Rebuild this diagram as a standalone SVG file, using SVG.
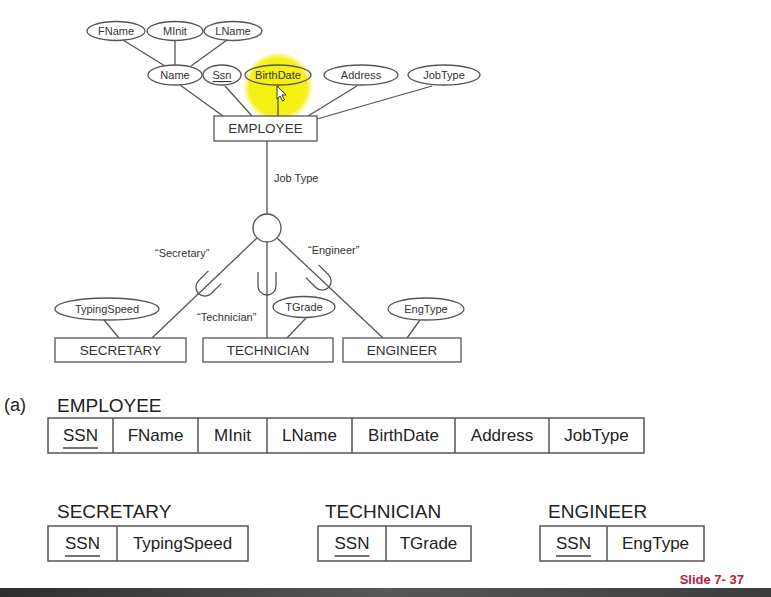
<svg xmlns="http://www.w3.org/2000/svg" width="771" height="597" viewBox="0 0 771 597">
<defs>
<style>
.ln{stroke:#555;stroke-width:1.3;fill:none}
.el{stroke:#555;stroke-width:1.3;fill:none}
.bx{stroke:#555;stroke-width:1.3;fill:#fff}
.et{font-family:"Liberation Sans",Arial,sans-serif;font-size:11px;fill:#333;text-anchor:middle;dominant-baseline:central}
.bt{font-family:"Liberation Sans",Arial,sans-serif;font-size:13.5px;fill:#333;text-anchor:middle;dominant-baseline:central}
.lb{font-family:"Liberation Sans",Arial,sans-serif;font-size:11px;fill:#333}
.hd{font-family:"Liberation Sans",Arial,sans-serif;font-size:19px;fill:#222}
.tt{font-family:"Liberation Sans",Arial,sans-serif;font-size:17px;fill:#222;text-anchor:middle;dominant-baseline:central}
.tb{stroke:#555;stroke-width:1.5;fill:#fff}
.tl{stroke:#555;stroke-width:1.5}
.ul{stroke:#444;stroke-width:1.5}
</style>
<radialGradient id="hl" cx="0.5" cy="0.5" r="0.5">
<stop offset="0" stop-color="#f7f200"/>
<stop offset="0.82" stop-color="#f5ef1c"/>
<stop offset="1" stop-color="#f5ef1c" stop-opacity="0"/>
</radialGradient>
<linearGradient id="bar" x1="0" y1="0" x2="1" y2="0">
<stop offset="0" stop-color="#2e2e2e"/>
<stop offset="0.5" stop-color="#575757"/>
<stop offset="1" stop-color="#3c3c3c"/>
</linearGradient>
<path id="sub" d="M-9,-11 L-9,3 A9 9 0 0 0 9 3 L9,-11"/>
</defs>
<rect width="771" height="597" fill="#fff"/>

<!-- highlight -->
<circle cx="278" cy="87" r="35" fill="url(#hl)"/>

<g id="connectors">
<line class="ln" x1="123" y1="40" x2="165" y2="66"/>
<line class="ln" x1="175" y1="41" x2="175" y2="65"/>
<line class="ln" x1="227" y1="40" x2="191" y2="66"/>
<line class="ln" x1="180" y1="85" x2="223" y2="116"/>
<line class="ln" x1="225" y1="86" x2="252" y2="116"/>
<line class="ln" x1="278" y1="86" x2="278" y2="116"/>
<line class="ln" x1="357" y1="86" x2="308" y2="116"/>
<line class="ln" x1="432" y1="86" x2="317" y2="119"/>
<line class="ln" x1="267" y1="141" x2="267" y2="214"/>
<line class="ln" x1="257" y1="238" x2="152" y2="338"/>
<line class="ln" x1="267" y1="242" x2="267" y2="338"/>
<line class="ln" x1="277" y1="238" x2="383" y2="338"/>
<line class="ln" x1="104" y1="320" x2="119" y2="338"/>
<line class="ln" x1="306" y1="318" x2="287" y2="338"/>
<line class="ln" x1="420" y1="320" x2="407" y2="338"/>
<use href="#sub" class="ln" transform="translate(207,285) rotate(45)"/>
<use href="#sub" class="ln" transform="translate(267,283)"/>
<use href="#sub" class="ln" transform="translate(320,279) rotate(-45)"/>
</g>

<g id="attr-fname"><ellipse class="el" cx="116" cy="31" rx="29" ry="9.5" fill="#fff"/><text class="et" x="116" y="31">FName</text></g>
<g id="attr-minit"><ellipse class="el" cx="175" cy="31" rx="28" ry="9.5" fill="#fff"/><text class="et" x="175" y="31">MInit</text></g>
<g id="attr-lname"><ellipse class="el" cx="233" cy="31" rx="29" ry="9.5" fill="#fff"/><text class="et" x="233" y="31">LName</text></g>
<g id="attr-name"><ellipse class="el" cx="175" cy="75" rx="27" ry="10" fill="#fff"/><text class="et" x="175" y="75">Name</text></g>
<g id="attr-ssn"><ellipse class="el" cx="222" cy="75" rx="19" ry="10" fill="#fff"/><text class="et" x="222" y="75" text-decoration="underline">Ssn</text></g>
<g id="attr-birthdate"><ellipse class="el" cx="278" cy="75" rx="33" ry="10"/><text class="et" x="278" y="75">BirthDate</text></g>
<g id="attr-address"><ellipse class="el" cx="361" cy="75" rx="37" ry="10" fill="#fff"/><text class="et" x="361" y="75">Address</text></g>
<g id="attr-jobtype"><ellipse class="el" cx="444" cy="75" rx="36" ry="10" fill="#fff"/><text class="et" x="444" y="75">JobType</text></g>

<g id="employee"><rect class="bx" x="214" y="116" width="103" height="25"/><text class="bt" x="265.5" y="128.5">EMPLOYEE</text></g>

<!-- cursor -->
<path d="M277,86 L277,99 L280,96 L282.5,101 L284.5,100 L282,95 L286,95 Z" fill="#fff" stroke="#222" stroke-width="0.9"/>

<text class="lb" x="274" y="182">Job Type</text>
<g id="disjoint"><circle class="bx" cx="267" cy="228" r="14"/></g>
<text class="lb" x="155" y="257">“Secretary”</text>
<text class="lb" x="308" y="254">“Engineer”</text>
<text class="lb" x="197" y="321">“Technician”</text>

<g id="attr-typingspeed"><ellipse class="el" cx="107" cy="309" rx="52" ry="11" fill="#fff"/><text class="et" x="107" y="309">TypingSpeed</text></g>
<g id="attr-tgrade"><ellipse class="el" cx="304" cy="307" rx="31" ry="10.5" fill="#fff"/><text class="et" x="304" y="307">TGrade</text></g>
<g id="attr-engtype"><ellipse class="el" cx="426" cy="309" rx="38" ry="11" fill="#fff"/><text class="et" x="426" y="309">EngType</text></g>

<g id="secretary"><rect class="bx" x="55" y="338" width="131" height="24"/><text class="bt" x="120.5" y="350">SECRETARY</text></g>
<g id="technician"><rect class="bx" x="203" y="338" width="130" height="24"/><text class="bt" x="268" y="350">TECHNICIAN</text></g>
<g id="engineer"><rect class="bx" x="343" y="338" width="118" height="24"/><text class="bt" x="402" y="350">ENGINEER</text></g>

<!-- relations -->
<text class="hd" x="4" y="411" style="font-size:18px">(a)</text>
<g id="rel-employee">
<text class="hd" x="57" y="412">EMPLOYEE</text>
<rect class="tb" x="48" y="418" width="596" height="35"/>
<line class="tl" x1="113" y1="418" x2="113" y2="453"/>
<line class="tl" x1="198" y1="418" x2="198" y2="453"/>
<line class="tl" x1="267" y1="418" x2="267" y2="453"/>
<line class="tl" x1="352" y1="418" x2="352" y2="453"/>
<line class="tl" x1="455" y1="418" x2="455" y2="453"/>
<line class="tl" x1="549" y1="418" x2="549" y2="453"/>
<text class="tt" x="80.5" y="435.5">SSN</text>
<line class="ul" x1="63" y1="448" x2="98" y2="448"/>
<text class="tt" x="155.5" y="435.5">FName</text>
<text class="tt" x="232.5" y="435.5">MInit</text>
<text class="tt" x="309.5" y="435.5">LName</text>
<text class="tt" x="403.5" y="435.5">BirthDate</text>
<text class="tt" x="502" y="435.5">Address</text>
<text class="tt" x="596.5" y="435.5">JobType</text>
</g>

<g id="rel-secretary">
<text class="hd" x="57" y="518">SECRETARY</text>
<rect class="tb" x="48" y="526" width="200" height="35"/>
<line class="tl" x1="117" y1="526" x2="117" y2="561"/>
<text class="tt" x="82.5" y="543">SSN</text>
<line class="ul" x1="65" y1="556" x2="100" y2="556"/>
<text class="tt" x="182.5" y="543">TypingSpeed</text>
</g>

<g id="rel-technician">
<text class="hd" x="325" y="518">TECHNICIAN</text>
<rect class="tb" x="318" y="526" width="153" height="35"/>
<line class="tl" x1="386" y1="526" x2="386" y2="561"/>
<text class="tt" x="352" y="543">SSN</text>
<line class="ul" x1="334.5" y1="556" x2="369.5" y2="556"/>
<text class="tt" x="428.5" y="543">TGrade</text>
</g>

<g id="rel-engineer">
<text class="hd" x="548" y="518">ENGINEER</text>
<rect class="tb" x="540" y="526" width="164" height="35"/>
<line class="tl" x1="607" y1="526" x2="607" y2="561"/>
<text class="tt" x="573.5" y="543">SSN</text>
<line class="ul" x1="556" y1="556" x2="591" y2="556"/>
<text class="tt" x="655.5" y="543">EngType</text>
</g>

<text x="744" y="584" text-anchor="end" style="font-family:'Liberation Sans',Arial,sans-serif;font-size:13px;font-weight:bold;fill:#b0243e">Slide 7- 37</text>
<rect x="0" y="588" width="771" height="9" fill="url(#bar)"/>
</svg>
